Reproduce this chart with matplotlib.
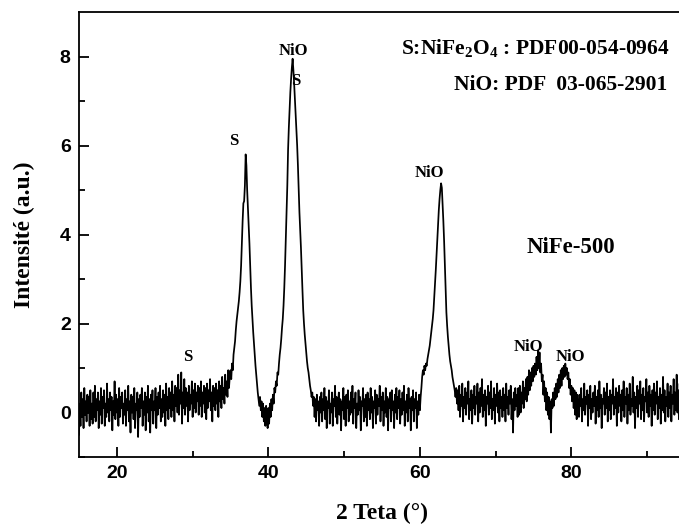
import numpy as np
import matplotlib
matplotlib.use('Agg')
import matplotlib.pyplot as plt

# XRD pattern NiFe-500, every 0.1 deg from 15 to 95
# (one row = 2 deg, first angle of the row in the comment)
intensity = [
    -0.50, 0.20, -0.30, 0.45, -0.10, 0.30, -0.35, 0.55, -0.05, 0.25, -0.20, 0.40, 0.00, 0.35, -0.30, 0.50, -0.15, 0.20, -0.25, 0.45,  # 15
    -0.10, 0.60, -0.20, 0.30, 0.05, 0.45, -0.35, 0.25, -0.05, 0.55, -0.25, 0.35, 0.10, 0.50, -0.30, 0.20, -0.10, 0.65, 0.00, 0.30,  # 17
    -0.20, 0.45, 0.05, 0.35, -0.40, 0.25, -0.05, 0.70, -0.15, 0.40, 0.00, 0.30, -0.30, 0.55, -0.10, 0.35, 0.10, 0.45, -0.25, 0.20,  # 19
    -0.05, 0.50, -0.30, 0.30, 0.05, 0.60, -0.20, 0.25, -0.45, 0.40, 0.00, 0.35, -0.15, 0.55, -0.35, 0.20, 0.05, 0.45, -0.55, 0.30,  # 21
    -0.10, 0.40, 0.10, 0.55, -0.30, 0.25, -0.05, 0.45, -0.40, 0.35, 0.00, 0.60, -0.20, 0.30, -0.45, 0.40, 0.05, 0.50, -0.25, 0.25,  # 23
    0.05, 0.55, -0.35, 0.35, -0.05, 0.45, 0.10, 0.60, -0.20, 0.30, -0.10, 0.50, 0.00, 0.40, -0.30, 0.65, 0.05, 0.35, -0.15, 0.55,  # 25
    0.10, 0.45, -0.10, 0.70, 0.05, 0.40, -0.20, 0.60, 0.15, 0.55, 0.00, 0.85, -0.05, 0.50, 0.20, 0.90, -0.25, 0.45, 0.10, 0.75,  # 27
    -0.05, 0.55, 0.15, 0.45, -0.20, 0.60, 0.05, 0.40, 0.20, 0.70, -0.10, 0.50, 0.10, 0.65, 0.00, 0.45, 0.25, 0.60, -0.05, 0.55,  # 29
    0.15, 0.70, -0.10, 0.45, 0.20, 0.60, 0.00, 0.55, -0.15, 0.65, 0.10, 0.50, 0.25, 0.75, 0.05, 0.45, -0.20, 0.60, 0.15, 0.55,  # 31
    0.05, 0.65, 0.20, 0.50, -0.10, 0.70, 0.25, 0.60, 0.10, 0.80, 0.30, 0.55, 0.20, 0.85, 0.40, 0.70, 0.35, 0.95, 0.55, 0.80,  # 33
    0.95, 0.75, 1.10, 0.95, 1.30, 1.45, 1.60, 1.85, 2.05, 2.20, 2.35, 2.50, 2.70, 2.95, 3.30, 3.80, 4.30, 4.70, 4.75, 5.10,  # 35
    5.80, 5.55, 5.00, 4.60, 4.20, 3.80, 3.30, 2.80, 2.40, 2.10, 1.80, 1.55, 1.30, 1.05, 0.85, 0.65, 0.45, 0.30, 0.15, 0.35,  # 37
    0.05, 0.25, -0.10, 0.20, -0.20, 0.10, -0.30, 0.15, -0.05, -0.35, 0.10, -0.25, 0.20, -0.10, 0.30, 0.05, 0.40, 0.20, 0.55, 0.45,  # 39
    0.70, 0.60, 0.90, 0.85, 1.10, 1.30, 1.45, 1.65, 1.90, 2.10, 2.40, 2.80, 3.30, 3.90, 4.50, 5.10, 5.90, 6.40, 6.80, 7.20,  # 41
    7.50, 7.75, 7.95, 7.70, 7.40, 7.05, 6.65, 6.30, 6.00, 5.55, 5.00, 4.50, 4.10, 3.70, 3.20, 2.75, 2.30, 2.00, 1.75, 1.55,  # 43
    1.35, 1.15, 1.00, 0.90, 0.75, 0.60, 0.50, 0.35, 0.45, 0.15, 0.35, -0.10, 0.30, -0.20, 0.40, 0.05, 0.25, -0.30, 0.35, 0.00,  # 45
    0.45, -0.20, 0.30, 0.05, 0.55, -0.15, 0.35, -0.35, 0.25, 0.10, 0.50, -0.25, 0.20, 0.00, 0.45, -0.30, 0.30, 0.15, 0.60, -0.10,  # 47
    0.35, -0.25, 0.20, 0.45, -0.05, 0.30, -0.40, 0.25, 0.05, 0.55, -0.15, 0.35, -0.30, 0.40, 0.10, 0.50, -0.20, 0.25, -0.05, 0.45,  # 49
    0.00, 0.60, -0.25, 0.30, 0.10, 0.45, -0.35, 0.20, -0.05, 0.50, 0.05, 0.35, -0.40, 0.25, 0.15, 0.55, -0.20, 0.30, -0.10, 0.40,  # 51
    -0.30, 0.45, 0.05, 0.30, -0.15, 0.55, 0.00, 0.35, -0.35, 0.25, 0.10, 0.50, -0.25, 0.40, -0.05, 0.30, 0.15, 0.60, -0.20, 0.35,  # 53
    0.05, 0.45, -0.30, 0.25, 0.00, 0.55, -0.10, 0.35, -0.40, 0.30, 0.10, 0.45, -0.20, 0.50, 0.05, 0.25, -0.35, 0.40, 0.00, 0.55,  # 55
    -0.15, 0.35, 0.10, 0.50, -0.25, 0.30, -0.05, 0.45, 0.05, 0.60, -0.30, 0.25, 0.00, 0.40, -0.20, 0.55, 0.10, 0.30, -0.40, 0.35,  # 57
    0.05, 0.50, -0.20, 0.30, 0.10, 0.45, -0.35, 0.25, -0.05, 0.40, 0.05, 0.35, 0.55, 0.80, 0.95, 0.85, 1.05, 0.95, 1.10, 1.05,  # 59
    1.20, 1.30, 1.40, 1.50, 1.65, 1.80, 1.95, 2.10, 2.30, 2.60, 2.90, 3.20, 3.55, 3.90, 4.25, 4.55, 4.80, 5.00, 5.15, 5.05,  # 61
    4.70, 4.30, 3.85, 3.30, 2.75, 2.25, 1.95, 1.70, 1.50, 1.30, 1.15, 1.05, 0.95, 0.80, 0.70, 0.60, 0.50, 0.35, 0.55, 0.20,  # 63
    0.50, 0.05, 0.60, -0.10, 0.40, 0.15, 0.65, -0.20, 0.35, 0.10, 0.55, -0.05, 0.45, 0.20, 0.70, -0.15, 0.30, 0.05, 0.50, -0.25,  # 65
    0.40, 0.10, 0.60, -0.05, 0.35, 0.20, 0.65, -0.20, 0.45, 0.00, 0.55, 0.15, 0.75, -0.10, 0.40, 0.05, 0.50, -0.30, 0.35, 0.20,  # 67
    0.60, -0.05, 0.45, 0.10, 0.70, -0.15, 0.30, 0.05, 0.55, -0.25, 0.40, 0.15, 0.65, 0.00, 0.45, -0.20, 0.50, 0.10, 0.35, -0.10,  # 69
    0.55, 0.05, 0.40, -0.20, 0.65, 0.10, 0.35, -0.05, 0.50, 0.20, 0.60, -0.15, 0.30, -0.45, 0.45, 0.05, 0.55, 0.15, 0.40, -0.10,  # 71
    0.55, -0.05, 0.60, 0.00, 0.45, 0.20, 0.70, 0.10, 0.55, 0.30, 0.75, 0.25, 0.80, 0.40, 0.95, 0.50, 0.90, 0.60, 1.00, 0.70,  # 73
    1.05, 0.80, 1.10, 0.85, 1.25, 0.95, 1.40, 1.00, 1.35, 0.90, 1.10, 0.70, 0.85, 0.40, 0.70, 0.25, 0.55, 0.05, 0.45, -0.05,  # 75
    0.35, -0.15, 0.25, -0.45, 0.30, 0.10, 0.45, 0.15, 0.55, 0.30, 0.65, 0.35, 0.75, 0.45, 0.85, 0.55, 0.95, 0.60, 1.00, 0.75,  # 77
    1.05, 0.80, 1.10, 0.85, 1.00, 0.75, 0.90, 0.55, 0.75, 0.40, 0.60, 0.25, 0.55, 0.10, 0.50, -0.05, 0.45, -0.15, 0.40, 0.05,  # 79
    -0.10, 0.40, 0.15, 0.55, -0.20, 0.30, 0.05, 0.65, -0.05, 0.35, 0.20, 0.50, -0.30, 0.40, 0.10, 0.60, -0.15, 0.30, 0.00, 0.45,  # 81
    0.15, 0.60, -0.25, 0.35, 0.05, 0.50, -0.10, 0.70, 0.10, 0.40, -0.35, 0.30, 0.20, 0.55, -0.05, 0.45, 0.10, 0.65, -0.20, 0.35,  # 83
    0.05, 0.50, -0.15, 0.40, 0.20, 0.75, -0.05, 0.35, 0.10, 0.55, -0.30, 0.45, 0.00, 0.60, 0.15, 0.40, -0.20, 0.50, 0.05, 0.70,  # 85
    -0.10, 0.35, 0.20, 0.55, -0.25, 0.40, 0.05, 0.65, -0.05, 0.30, 0.15, 0.80, 0.00, 0.45, -0.35, 0.35, 0.10, 0.60, -0.10, 0.50,  # 87
    0.20, 0.70, -0.15, 0.40, 0.05, 0.55, -0.20, 0.35, 0.25, 0.75, 0.00, 0.45, -0.10, 0.60, 0.15, 0.40, -0.30, 0.50, 0.05, 0.65,  # 89
    -0.05, 0.45, 0.20, 0.70, -0.15, 0.35, 0.10, 0.55, -0.25, 0.40, 0.05, 0.80, 0.00, 0.50, -0.20, 0.35, 0.15, 0.65, -0.10, 0.45,  # 91
    0.10, 0.60, -0.20, 0.40, 0.20, 0.75, -0.05, 0.45, 0.05, 0.85, 0.00, 0.50, -0.15, 0.65, 0.15, 0.40, -0.10, 0.70, 0.05, 0.55,  # 93
    0.20,  # 95
]
two_theta = np.linspace(15, 95, len(intensity))

# peak labels: text, 2theta, y
peak_labels = ['S', 'S', 'NiO', 'S', 'NiO', 'NiO', 'NiO']
peak_x = [29.4, 35.45, 43.25, 43.6, 61.3, 74.3, 79.9]
peak_y = [1.25, 6.1, 8.13, 7.45, 5.38, 1.47, 1.25]

plt.rcParams['mathtext.fontset'] = 'custom'
plt.rcParams['mathtext.rm'] = 'Liberation Serif:bold'
plt.rcParams['mathtext.it'] = 'Liberation Serif:bold'
plt.rcParams['mathtext.bf'] = 'Liberation Serif:bold'

serif = {'family': 'Liberation Serif', 'weight': 'bold'}

fig = plt.figure(figsize=(6.79, 5.26), dpi=100)
ax = fig.add_axes([79 / 679, 69 / 526, 606 / 679, 445 / 526])

ax.plot(two_theta, intensity, color='black', lw=1.25)

ax.set_xlim(15, 95)
ax.set_ylim(-1, 9)
ax.set_xticks([20, 40, 60, 80])
ax.set_xticks([30, 50, 70, 90], minor=True)
ax.set_yticks([0, 2, 4, 6, 8])
ax.set_yticks([-1, 1, 3, 5, 7], minor=True)
ax.tick_params(which='both', direction='in', width=1.3)
ax.tick_params(which='major', length=7, pad=6)
ax.tick_params(which='minor', length=4)
for lab in ax.get_xticklabels() + ax.get_yticklabels():
    lab.set_fontfamily('Liberation Sans')
    lab.set_fontweight('bold')
    lab.set_fontsize(14)
for sp in ax.spines.values():
    sp.set_linewidth(1.3)

ax.set_xlabel('2 Teta (°)', fontdict=serif, fontsize=17, labelpad=15)
ax.set_ylabel('Intensité (a.u.)', fontdict=serif, fontsize=17, labelpad=18)

for t, x, y in zip(peak_labels, peak_x, peak_y):
    ax.text(x, y, t, fontdict=serif, fontsize=12, ha='center', va='center')

ax.text(93.0, 8.2, 'S:NiFe$_2$O$_4$ : PDF00-054-0964', fontdict=serif,
        fontsize=15.5, ha='right', va='center')
ax.text(92.6, 7.36, 'NiO: PDF  03-065-2901', fontdict=serif,
        fontsize=15.5, ha='right', va='center')
ax.text(79.9, 3.7, 'NiFe-500', fontdict=serif, fontsize=16.5,
        ha='center', va='center')

fig.savefig('out.png', dpi=100)
